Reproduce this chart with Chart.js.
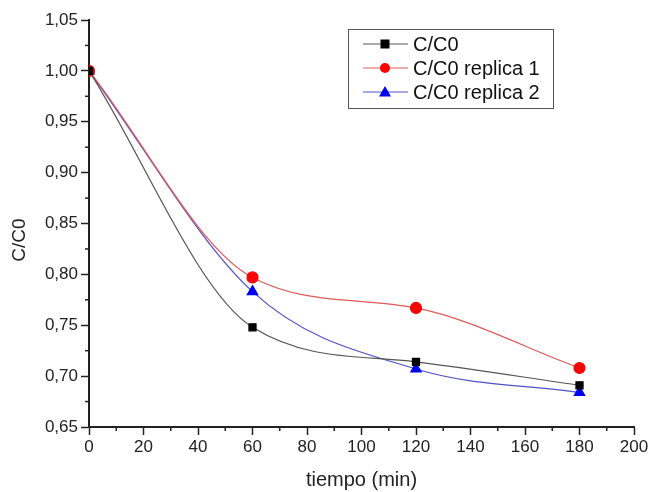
<!DOCTYPE html>
<html>
<head>
<meta charset="utf-8">
<script src="https://cdn.jsdelivr.net/npm/chart.js@4"></script>
<style>
  html, body { margin: 0; padding: 0; background: #fff; }
  #wrap { width: 653px; height: 492px; }
</style>
</head>
<body>
<div id="wrap"><canvas id="chart" width="653" height="492"></canvas></div>
<script>
// datos
const tiempo = [0, 60, 120, 180];
const cc0 = [1.00, 0.748, 0.714, 0.691];
const replica1 = [1.00, 0.797, 0.767, 0.708];
const replica2 = [1.00, 0.783, 0.707, 0.684];
const xTicks = [0, 20, 40, 60, 80, 100, 120, 140, 160, 180, 200];
const yTicks = [0.65, 0.70, 0.75, 0.80, 0.85, 0.90, 0.95, 1.00, 1.05];

const FONT = "'Liberation Sans', Arial, sans-serif";

const toPts = (ys) => ys.map((y, i) => ({x: tiempo[i], y: y}));

// ticks menores, titulo Y y leyenda con recuadro
const extras = {
  id: 'extras',
  afterDraw(chart) {
    const ctx = chart.ctx;
    const xs = chart.scales.x, ys = chart.scales.y;
    ctx.save();
    ctx.strokeStyle = '#222';
    ctx.lineWidth = 1.5;
    for (let v = 10; v < 200; v += 20) {
      const px = xs.getPixelForValue(v);
      ctx.beginPath(); ctx.moveTo(px, xs.top); ctx.lineTo(px, xs.top + 4); ctx.stroke();
    }
    for (let v = 0.675; v < 1.05; v += 0.05) {
      const py = ys.getPixelForValue(v);
      ctx.beginPath(); ctx.moveTo(ys.right, py); ctx.lineTo(ys.right - 4, py); ctx.stroke();
    }

    // titulo eje Y
    ctx.save();
    ctx.translate(20, 240);
    ctx.rotate(-Math.PI / 2);
    ctx.font = '19px ' + FONT;
    ctx.fillStyle = '#222';
    ctx.textAlign = 'center';
    ctx.textBaseline = 'middle';
    ctx.fillText('C/C0', 0, 0);
    ctx.restore();

    // leyenda
    const bx = 348, by = 29, bw = 205, bh = 79;
    ctx.strokeStyle = '#555';
    ctx.lineWidth = 1;
    ctx.strokeRect(bx + 0.5, by + 0.5, bw, bh);
    ctx.font = '20px ' + FONT;
    ctx.textBaseline = 'middle';
    chart.data.datasets.forEach((ds, i) => {
      const cy = by + 15 + i * 24;
      ctx.strokeStyle = ds.borderColor;
      ctx.lineWidth = 1;
      ctx.beginPath(); ctx.moveTo(363, cy); ctx.lineTo(408, cy); ctx.stroke();
      ctx.fillStyle = ds.pointBackgroundColor;
      const mx = 385;
      if (ds.pointStyle === 'rect') {
        ctx.fillRect(mx - 4.5, cy - 4.5, 9, 9);
      } else if (ds.pointStyle === 'circle') {
        ctx.beginPath(); ctx.arc(mx, cy, 5, 0, Math.PI * 2); ctx.fill();
      } else {
        ctx.beginPath(); ctx.moveTo(mx, cy - 6); ctx.lineTo(mx + 6, cy + 4.5); ctx.lineTo(mx - 6, cy + 4.5); ctx.closePath(); ctx.fill();
      }
      ctx.fillStyle = '#111';
      ctx.fillText(ds.label, 413, cy + 1);
    });
    ctx.restore();
  }
};

new Chart(document.getElementById('chart'), {
  type: 'line',
  data: {
    datasets: [{
      label: 'C/C0',
      data: toPts(cc0),
      borderColor: '#555555',
      borderWidth: 1.2,
      pointStyle: 'rect',
      pointRadius: 5,
      pointBackgroundColor: '#000',
      pointBorderColor: '#000',
      cubicInterpolationMode: 'monotone'
    }, {
      label: 'C/C0 replica 1',
      data: toPts(replica1),
      borderColor: '#e05a5a',
      borderWidth: 1.2,
      pointStyle: 'circle',
      pointRadius: 5.5,
      pointBackgroundColor: '#ff0000',
      pointBorderColor: '#ff0000',
      cubicInterpolationMode: 'monotone'
    }, {
      label: 'C/C0 replica 2',
      data: toPts(replica2),
      borderColor: '#5050c8',
      borderWidth: 1.2,
      pointStyle: 'triangle',
      pointRadius: 6,
      pointBackgroundColor: '#0000ee',
      pointBorderColor: '#0000ee',
      cubicInterpolationMode: 'monotone'
    }]
  },
  options: {
    responsive: false,
    animation: false,
    layout: { padding: { left: 0, top: 20, right: 19, bottom: 0 } },
    plugins: { legend: { display: false }, tooltip: { enabled: false } },
    scales: {
      x: {
        type: 'linear',
        min: 0, max: 200,
        afterBuildTicks: (s) => { s.ticks = xTicks.map(v => ({value: v})); },
        afterFit: (s) => { s.height = 65; },
        grid: { drawOnChartArea: false, tickLength: 8, tickWidth: 1.5, tickColor: '#222' },
        border: { display: true, color: '#222', width: 2 },
        ticks: { color: '#222', font: { family: FONT, size: 17 }, padding: 2, maxRotation: 0 },
        title: { display: true, text: 'tiempo (min)', color: '#222', font: { family: FONT, size: 20 }, padding: { top: 4, bottom: 0 } }
      },
      y: {
        type: 'linear',
        min: 0.65, max: 1.05,
        afterBuildTicks: (s) => { s.ticks = yTicks.map(v => ({value: v})); },
        afterFit: (s) => { s.width = 89; },
        grid: { drawOnChartArea: false, tickLength: 8, tickWidth: 1.5, tickColor: '#222' },
        border: { display: true, color: '#222', width: 2 },
        ticks: {
          color: '#222', font: { family: FONT, size: 17 }, padding: 3,
          callback: (v) => v.toFixed(2).replace('.', ',')
        },
        title: { display: false }
      }
    }
  },
  plugins: [extras]
});
</script>
</body>
</html>
